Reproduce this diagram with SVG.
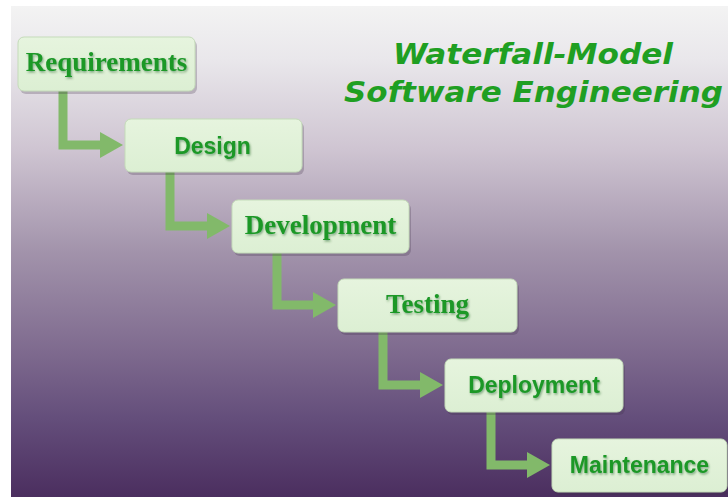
<svg xmlns="http://www.w3.org/2000/svg" width="728" height="497" viewBox="0 0 728 497">
  <defs>
    <linearGradient id="bg" gradientUnits="userSpaceOnUse" x1="0" y1="6" x2="0" y2="497">
      <stop offset="0" stop-color="#f3f3f3"/>
      <stop offset="0.11" stop-color="#e9e7eb"/>
      <stop offset="0.29" stop-color="#cfc5d2"/>
      <stop offset="0.5" stop-color="#a293ab"/>
      <stop offset="0.7" stop-color="#7f6b8f"/>
      <stop offset="0.84" stop-color="#644e7b"/>
      <stop offset="1" stop-color="#4b2e5f"/>
    </linearGradient>
    <linearGradient id="boxfill" x1="0" y1="0" x2="0" y2="1">
      <stop offset="0" stop-color="#e6f4de"/>
      <stop offset="1" stop-color="#dcefd3"/>
    </linearGradient>
    <filter id="ts" x="-10%" y="-30%" width="120%" height="160%">
      <feDropShadow dx="1" dy="1.5" stdDeviation="1" flood-color="#0d4a12" flood-opacity="0.45"/>
    </filter>
    <marker id="ah" markerUnits="userSpaceOnUse" markerWidth="24" markerHeight="28" refX="1" refY="14" orient="auto">
      <path d="M0,1 L23,14 L0,27 Z" fill="#82b96a"/>
    </marker>
  </defs>
  <style>
    .box { fill: url(#boxfill); stroke: #c4dbb9; stroke-width: 1; }
    .shadow { fill: #3a2a45; opacity: 0.25; }
    .serif { font-family: "Liberation Serif", "Times New Roman", serif; font-weight: bold; font-size: 27px; fill: #1c9828; text-anchor: middle; filter: url(#ts); }
    .sans { font-family: "Liberation Sans", Arial, sans-serif; font-weight: bold; font-size: 23px; fill: #1c9828; text-anchor: middle; filter: url(#ts); }
    .title { font-family: "DejaVu Sans", Verdana, sans-serif; font-weight: bold; font-style: italic; font-size: 29px; fill: #1f9f22; text-anchor: middle; }
    .conn { fill: none; stroke: #82b96a; stroke-width: 9; stroke-linejoin: miter; marker-end: url(#ah); }
  </style>
  <rect x="0" y="0" width="728" height="497" fill="#ffffff"/>
  <rect x="11" y="6" width="717" height="491" fill="url(#bg)"/>

  <g id="title">
    <text class="title" x="533" y="64" textLength="280" lengthAdjust="spacingAndGlyphs">Waterfall-Model</text>
    <text class="title" x="533.5" y="102" textLength="379" lengthAdjust="spacingAndGlyphs">Software Engineering</text>
  </g>

  <g id="connectors">
    <path class="conn" d="M63,91 V145 H101"/>
    <path class="conn" d="M170,172 V226 H208"/>
    <path class="conn" d="M277,253 V305 H314"/>
    <path class="conn" d="M383,332 V385 H421"/>
    <path class="conn" d="M491,412 V465 H528"/>
  </g>

  <g id="requirements">
    <rect class="shadow" x="20" y="40" width="177" height="54" rx="6"/>
    <rect class="box" x="18" y="37" width="177" height="54" rx="6"/>
    <text class="serif" x="106.5" y="71">Requirements</text>
  </g>
  <g id="design">
    <rect class="shadow" x="127" y="122" width="177" height="53" rx="6"/>
    <rect class="box" x="125" y="119" width="177" height="53" rx="6"/>
    <text class="sans" x="212.5" y="154">Design</text>
  </g>
  <g id="development">
    <rect class="shadow" x="234" y="203" width="177" height="53" rx="6"/>
    <rect class="box" x="232" y="200" width="177" height="53" rx="6"/>
    <text class="serif" x="320.5" y="234">Development</text>
  </g>
  <g id="testing">
    <rect class="shadow" x="340" y="282" width="179" height="53" rx="6"/>
    <rect class="box" x="338" y="279" width="179" height="53" rx="6"/>
    <text class="serif" x="427.5" y="313">Testing</text>
  </g>
  <g id="deployment">
    <rect class="shadow" x="447" y="362" width="178" height="53" rx="6"/>
    <rect class="box" x="445" y="359" width="178" height="53" rx="6"/>
    <text class="sans" x="534" y="393">Deployment</text>
  </g>
  <g id="maintenance">
    <rect class="shadow" x="554" y="442" width="175" height="53" rx="6"/>
    <rect class="box" x="552" y="439" width="175" height="53" rx="6"/>
    <text class="sans" x="639.5" y="473">Maintenance</text>
  </g>
</svg>
